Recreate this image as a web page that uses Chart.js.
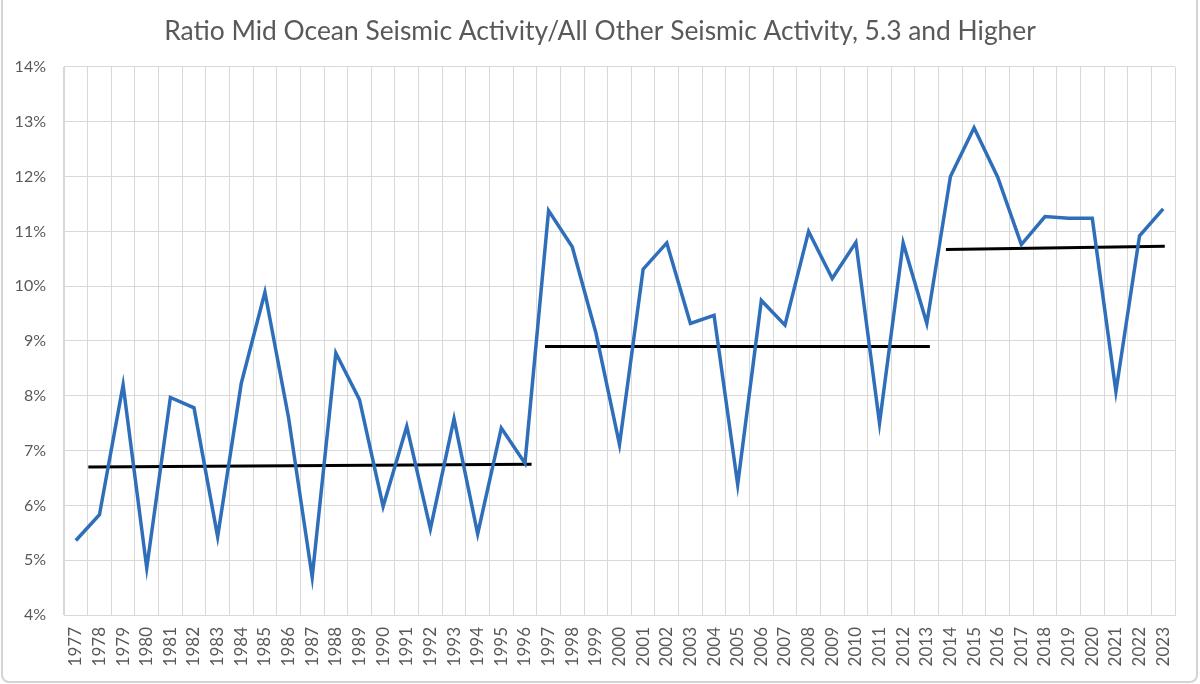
<!DOCTYPE html>
<html>
<head>
<meta charset="utf-8">
<script src="https://cdn.jsdelivr.net/npm/chart.js@4.4.0/dist/chart.umd.min.js"></script>
<style>
  html, body { margin: 0; padding: 0; background: #fff; }
  #wrap {
    position: relative;
    width: 1200px;
    height: 684px;
    box-sizing: border-box;
  }
  #frame {
    position: absolute;
    left: 1px; right: 2px; top: -10px; bottom: 1px;
    border: 2px solid #d4d4d4;
    border-radius: 8px;
    pointer-events: none;
  }
  canvas { display: block; }
</style>
</head>
<body>
<div id="wrap">
  <canvas id="chart" width="1200" height="684"></canvas>
  <div id="frame"></div>
</div>
<script>
// Années (catégories)
const years = [1977, 1978, 1979, 1980, 1981, 1982, 1983, 1984, 1985, 1986,
  1987, 1988, 1989, 1990, 1991, 1992, 1993, 1994, 1995, 1996,
  1997, 1998, 1999, 2000, 2001, 2002, 2003, 2004, 2005, 2006,
  2007, 2008, 2009, 2010, 2011, 2012, 2013, 2014, 2015, 2016,
  2017, 2018, 2019, 2020, 2021, 2022, 2023];

// Ratio en %
const ratio = [5.36, 5.83, 8.20, 4.86, 7.97, 7.78, 5.43, 8.23, 9.89, 7.60,
  4.69, 8.78, 7.93, 5.98, 7.44, 5.57, 7.58, 5.48, 7.41, 6.77,
  11.38, 10.72, 9.15, 7.11, 10.31, 10.79, 9.32, 9.47, 6.38, 9.74,
  9.29, 11.00, 10.14, 10.80, 7.50, 10.79, 9.32, 12.00, 12.89, 11.99,
  10.76, 11.27, 11.24, 11.24, 8.08, 10.92, 11.41];

// Lignes de tendance (début / fin de chaque période)
const trend1Years = [1977.53, 1996.28];
const trend1Values = [6.70, 6.75];
const trend2Years = [1996.85, 2013.13];
const trend2Values = [8.90, 8.90];
const trend3Years = [2013.81, 2023.07];
const trend3Values = [10.67, 10.73];

// Graduations de l'axe Y
const yTicks = [4, 5, 6, 7, 8, 9, 10, 11, 12, 13, 14];

const textColor = '#595959';
const gridColor = '#d9d9d9';

function toPoints(xs, ys) {
  return xs.map((x, i) => ({ x: x, y: ys[i] }));
}

function trendDataset(xs, ys) {
  return {
    data: toPoints(xs, ys),
    borderColor: '#000000',
    borderWidth: 3,
    pointRadius: 0,
    tension: 0,
    fill: false
  };
}

const ctx = document.getElementById('chart').getContext('2d');
new Chart(ctx, {
  type: 'line',
  data: {
    datasets: [
      {
        data: toPoints(years, ratio),
        borderColor: '#2f6fba',
        borderWidth: 3.5,
        pointRadius: 0,
        tension: 0,
        fill: false,
        borderJoinStyle: 'miter'
      },
      trendDataset(trend1Years, trend1Values),
      trendDataset(trend2Years, trend2Values),
      trendDataset(trend3Years, trend3Values)
    ]
  },
  options: {
    responsive: false,
    animation: false,
    layout: { padding: 0 },
    plugins: {
      legend: { display: false },
      tooltip: { enabled: false },
      title: {
        display: true,
        text: 'Ratio Mid Ocean Seismic Activity/All Other Seismic Activity, 5.3 and Higher',
        color: textColor,
        font: { family: 'Lato', size: 26.4, weight: 'normal', lineHeight: 1.2 },
        padding: { top: 16, bottom: 19.3 }
      }
    },
    scales: {
      x: {
        type: 'linear',
        min: years[0] - 0.5,
        max: years[years.length - 1] + 0.5,
        afterBuildTicks: axis => { axis.ticks = years.map(v => ({ value: v })); },
        afterFit: axis => { axis.height = 69; },
        grid: { color: gridColor, offset: true, drawTicks: false },
        border: { color: gridColor },
        ticks: {
          autoSkip: false,
          minRotation: 90,
          maxRotation: 90,
          padding: 12,
          color: textColor,
          font: { family: 'Lato', size: 17 },
          callback: v => String(v)
        }
      },
      y: {
        min: yTicks[0],
        max: yTicks[yTicks.length - 1],
        afterBuildTicks: axis => { axis.ticks = yTicks.map(v => ({ value: v })); },
        afterFit: axis => { axis.width = 64; },
        grid: { color: gridColor, drawTicks: false },
        border: { color: gridColor },
        ticks: {
          padding: 18,
          color: textColor,
          font: { family: 'Lato', size: 16 },
          callback: v => v + '%'
        }
      },
      // marge droite vide
      yRight: {
        position: 'right',
        min: yTicks[0],
        max: yTicks[yTicks.length - 1],
        afterFit: axis => { axis.width = 25; },
        grid: { display: false },
        border: { display: false },
        ticks: { display: false }
      }
    }
  }
});
</script>
</body>
</html>
